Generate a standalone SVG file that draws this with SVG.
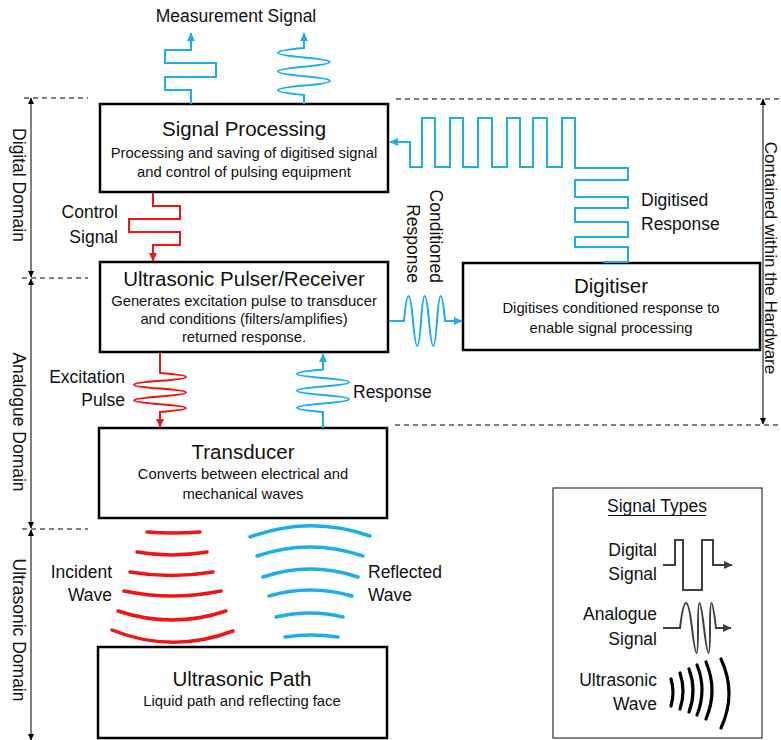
<svg xmlns="http://www.w3.org/2000/svg" width="781" height="740" viewBox="0 0 781 740">
<style>
text{font-family:"Liberation Sans",Arial,sans-serif;fill:#111}
.box{fill:#fff;stroke:#000;stroke-width:2.5}
.t{font-size:20.5px;text-anchor:middle}
.s{font-size:14.8px;text-anchor:middle}
.l{font-size:17.5px}
.e{text-anchor:end}
.m{text-anchor:middle}
.blue{fill:none;stroke:#1DAEE8;stroke-width:2}
.red{fill:none;stroke:#F01414;stroke-width:2}
.grey{fill:none;stroke:#404040;stroke-width:2}
.dash{fill:none;stroke:#000;stroke-width:1;stroke-dasharray:5 4}
.axis{fill:none;stroke:#000;stroke-width:1}
.wr{fill:none;stroke:#F01414;stroke-width:3.5;stroke-linecap:round}
.wb{fill:none;stroke:#1DAEE8;stroke-width:3.5;stroke-linecap:round}
.wk{fill:none;stroke:#000;stroke-width:3.2;stroke-linecap:round}
</style>
<defs>
<marker id="ab" markerWidth="9" markerHeight="9" refX="8" refY="4.5" orient="auto-start-reverse" markerUnits="userSpaceOnUse"><path d="M0,0.5 L8.5,4.5 L0,8.5 z" fill="#1DAEE8"/></marker>
<marker id="ar" markerWidth="9" markerHeight="9" refX="8" refY="4.5" orient="auto-start-reverse" markerUnits="userSpaceOnUse"><path d="M0,0.5 L8.5,4.5 L0,8.5 z" fill="#F01414"/></marker>
<marker id="ag" markerWidth="9" markerHeight="9" refX="8" refY="4.5" orient="auto-start-reverse" markerUnits="userSpaceOnUse"><path d="M0,0.5 L8.5,4.5 L0,8.5 z" fill="#404040"/></marker>
<marker id="ak" markerWidth="7" markerHeight="7" refX="6" refY="3.5" orient="auto-start-reverse" markerUnits="userSpaceOnUse"><path d="M0,0.5 L6.5,3.5 L0,6.5 z" fill="#000"/></marker>
</defs>

<!-- domain axes -->
<g id="axes">
<path class="dash" d="M24,98 H88 M22,278 H88 M22,529 H88"/>
<path class="axis" d="M31,98 V277" marker-start="url(#ak)" marker-end="url(#ak)"/>
<path class="axis" d="M31,279 V528" marker-start="url(#ak)" marker-end="url(#ak)"/>
<path class="axis" d="M31,530 V740" marker-start="url(#ak)" marker-end="url(#ak)"/>
<text class="l m" transform="translate(13,185) rotate(90)">Digital Domain</text>
<text class="l m" transform="translate(13,422) rotate(90)">Analogue Domain</text>
<text class="l m" transform="translate(13,630) rotate(90)">Ultrasonic Domain</text>
<path class="dash" d="M396,99 H781 M395,425 H781"/>
<path class="axis" d="M763,99 V424" marker-start="url(#ak)" marker-end="url(#ak)"/>
<text class="m" style="font-size:17px" transform="translate(765,258) rotate(90)">Contained within the Hardware</text>
</g>

<!-- nodes -->
<g id="signal-processing">
<rect class="box" x="100" y="104" width="288" height="88"/>
<text class="t" x="244" y="136">Signal Processing</text>
<text class="s" x="244" y="158">Processing and saving of digitised signal</text>
<text class="s" x="244" y="177">and control of pulsing equipment</text>
</g>
<g id="pulser-receiver">
<rect class="box" x="100" y="262" width="288" height="90"/>
<text class="t" x="244" y="286">Ultrasonic Pulser/Receiver</text>
<text class="s" x="244" y="306">Generates excitation pulse to transducer</text>
<text class="s" x="244" y="324">and conditions (filters/amplifies)</text>
<text class="s" x="244" y="342">returned response.</text>
</g>
<g id="digitiser">
<rect class="box" x="463" y="263" width="297" height="87"/>
<text class="t" x="611" y="293">Digitiser</text>
<text class="s" x="611" y="313">Digitises conditioned response to</text>
<text class="s" x="611" y="333">enable signal processing</text>
</g>
<g id="transducer">
<rect class="box" x="99" y="428" width="288" height="90"/>
<text class="t" x="243" y="459">Transducer</text>
<text class="s" x="243" y="479">Converts between electrical and</text>
<text class="s" x="243" y="499">mechanical waves</text>
</g>
<g id="ultrasonic-path">
<rect class="box" x="98" y="647" width="289" height="91"/>
<text class="t" x="242" y="686">Ultrasonic Path</text>
<text class="s" x="242" y="706">Liquid path and reflecting face</text>
</g>

<!-- connectors -->
<g id="connectors">
<path class="blue" d="M191,104 V90 H165 V77 H216 V63 H165 V50 H191 V33" marker-end="url(#ab)"/>
<path class="blue" d="M304,104 V95 Q252,90.3 304,85.6 T304,76.2 T304,66.8 T304,57.4 T304,48 V33" marker-end="url(#ab)"/>
<path class="red" d="M153,193 V206 H180 V219 H129 V232 H180 V245 H153 V261" marker-end="url(#ar)"/>
<path class="red" d="M160,353 V373 Q212,376.9 160,380.8 T160,388.6 T160,396.4 T160,404.2 T160,412 V427" marker-end="url(#ar)"/>
<path class="blue" d="M323,428 V412 Q271,407.75 323,403.5 T323,395 T323,386.5 T323,378 T323,369.5 V354" marker-end="url(#ab)"/>
<path class="blue" d="M389,321 H404 Q408.5,271 413,321 T421,321 T429,321 T437,321 T445,321 H462" marker-end="url(#ab)"/>
<path class="blue" d="M603,262 H628 V247 H575 V237 H628 V222 H575 V208 H628 V197 H575 V180 H628 V168 H575 V118 H562 V167 H547 V118 H533 V167 H520 V118 H507 V167 H492 V118 H478 V167 H463 V118 H450 V167 H435 V118 H422 V167 H410 V142 H390" marker-end="url(#ab)"/>
<path class="wr" d="M147,532 Q173,534 200,532 M137,552 Q172,558 207,552 M130,572 Q171,579 213,572 M124,591 Q172,601 221,591 M118,611 Q172,629 226,611 M112,630 Q172,654 233,631"/>
<path class="wb" d="M250,537 Q310,515 370,536 M257,556 Q310,538 363,556 M263,577 Q310,561 358,577 M269,596 Q310,584 352,596 M276,617 Q310,609 343,617 M285,637 Q311,633 338,637"/>
</g>

<!-- labels -->
<g id="labels">
<text class="l m" x="236" y="22">Measurement Signal</text>
<text class="l e" x="118" y="218">Control</text>
<text class="l e" x="118" y="243">Signal</text>
<text class="l e" x="125" y="383">Excitation</text>
<text class="l e" x="125" y="406">Pulse</text>
<text class="l" x="353" y="398">Response</text>
<text class="l" x="641" y="206">Digitised</text>
<text class="l" x="641" y="230">Response</text>
<text class="l e" transform="translate(430,283) rotate(90)">Conditioned</text>
<text class="l e" transform="translate(407,283) rotate(90)">Response</text>
<text class="l e" x="112" y="578">Incident</text>
<text class="l e" x="112" y="601">Wave</text>
<text class="l" x="368" y="578">Reflected</text>
<text class="l" x="368" y="601">Wave</text>
</g>

<!-- legend -->
<g id="legend">
<rect x="553" y="488" width="209" height="250" fill="#fff" stroke="#333" stroke-width="1.2"/>
<text class="l m" x="657" y="512">Signal Types</text>
<line x1="608" y1="515.5" x2="706" y2="515.5" stroke="#111" stroke-width="1"/>
<text class="l e" x="657" y="556">Digital</text>
<text class="l e" x="657" y="580">Signal</text>
<path class="grey" d="M663,565 H675 V540 H683 V590 H702 V540 H713 V565 H732" marker-end="url(#ag)"/>
<text class="l e" x="657" y="620">Analogue</text>
<text class="l e" x="657" y="645">Signal</text>
<path class="grey" d="M663,628 H680 Q686,578 692,628 T698,628 T704,628 T710,628 T716,628 H731" marker-end="url(#ag)"/>
<text class="l e" x="657" y="686">Ultrasonic</text>
<text class="l e" x="657" y="710">Wave</text>
<path class="wk" d="M671,679 Q675,692.5 671,706 M680,673 Q686,691 680,709 M689,669 Q697,690.5 689,712 M697,665 Q707,690 697,715 M706,662 Q718,690.5 706,719 M721,659 Q737,693.5 721,728"/>
</g>
</svg>
